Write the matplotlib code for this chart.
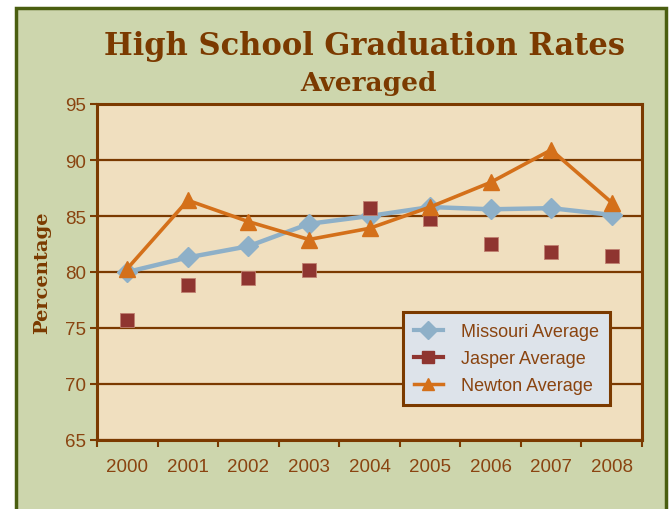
import numpy as np
import matplotlib
matplotlib.use("Agg")
import matplotlib.pyplot as plt
from matplotlib.lines import Line2D
from matplotlib.patches import Rectangle

years = ["2000", "2001", "2002", "2003", "2004", "2005", "2006", "2007", "2008"]
missouri = [80.0, 81.3, 82.3, 84.3, 85.0, 85.8, 85.6, 85.7, 85.1]
jasper = [75.7, 78.8, 79.5, 80.2, 85.7, 84.7, 82.5, 81.8, 81.4]
newton = [80.3, 86.4, 84.5, 82.9, 83.9, 85.8, 88.0, 90.9, 86.2]

brown = "#7b3a00"
text_brown = "#8a4410"
c_mo = "#8eb0c8"
c_ja = "#8f3530"
c_ne = "#d4701a"
sans = ["Liberation Sans", "DejaVu Sans"]

fig = plt.figure(figsize=(6.71, 5.10), dpi=100, facecolor="white")
W, H = 671, 510
fig.patches.append(Rectangle((15.5 / W, -0.05), 651 / W, (510 - 8.5) / H + 0.05,
                             transform=fig.transFigure, facecolor="#cdd6ad",
                             edgecolor="#4a5e10", linewidth=2.5, zorder=-5))

ax = fig.add_axes([97 / W, 1 - 441 / H, (642 - 97) / W, (441 - 105) / H])
ax.set_facecolor("#f0dfbf")
x = np.arange(len(years))

ax.plot(x, missouri, color=c_mo, lw=3.2, marker="D", ms=10, mec=c_mo, zorder=3)
ax.plot(x, jasper, ls="none", color=c_ja, marker="s", ms=10.5, mec="#c08070", mew=0.6, zorder=4)
ax.plot(x, newton, color=c_ne, lw=2.6, marker="^", ms=12, zorder=5)

ax.set_xlim(-0.5, len(years) - 0.5)
ax.set_ylim(65, 95)
ax.set_yticks(np.arange(65, 96, 5))
ax.set_xticks(x)
ax.set_xticklabels(years)
ax.set_xticks(np.arange(-0.5, len(years)), minor=True)
ax.tick_params(axis="x", which="major", length=0, pad=13, labelsize=13.5, labelcolor=text_brown)
ax.tick_params(axis="x", which="minor", length=5, width=1.5, color=brown, direction="out")
ax.tick_params(axis="y", length=5, width=1.5, color=brown, labelsize=13.5, labelcolor=text_brown, pad=3)
for lab in ax.get_xticklabels() + ax.get_yticklabels():
    lab.set_family(sans)
ax.grid(axis="y", color=brown, lw=1.6)
ax.set_axisbelow(True)
for s in ax.spines.values():
    s.set_color(brown)
    s.set_linewidth(2.2)

ax.set_ylabel("Percentage", family="DejaVu Serif", weight="bold", fontsize=14, color=brown, labelpad=10)

fig.text(365 / W, 1 - 47 / H, "High School Graduation Rates", ha="center", va="center",
         family="DejaVu Serif", weight="bold", fontsize=22, color=brown)
fig.text(369 / W, 1 - 83 / H, "Averaged", ha="center", va="center",
         family="DejaVu Serif", weight="bold", fontsize=19, color=brown)

handles = [
    Line2D([], [], color=c_mo, lw=3, marker="D", ms=9),
    Line2D([], [], color=c_ja, lw=3, marker="s", ms=8),
    Line2D([], [], color=c_ne, lw=2.5, marker="^", ms=9),
]
leg = ax.legend(handles, ["Missouri Average", "Jasper Average", "Newton Average"],
                loc="lower left", bbox_to_anchor=((403 - 97) / 545, (441 - 406) / 336),
                frameon=True, fancybox=False, facecolor="#dde3ea", edgecolor=brown,
                framealpha=1, prop={"family": sans, "size": 13}, labelcolor=text_brown,
                handlelength=1.6, handletextpad=1.0, borderpad=0.6, labelspacing=0.55,
                borderaxespad=0)
leg.get_frame().set_linewidth(2.2)

fig.savefig("out.png", dpi=100)
